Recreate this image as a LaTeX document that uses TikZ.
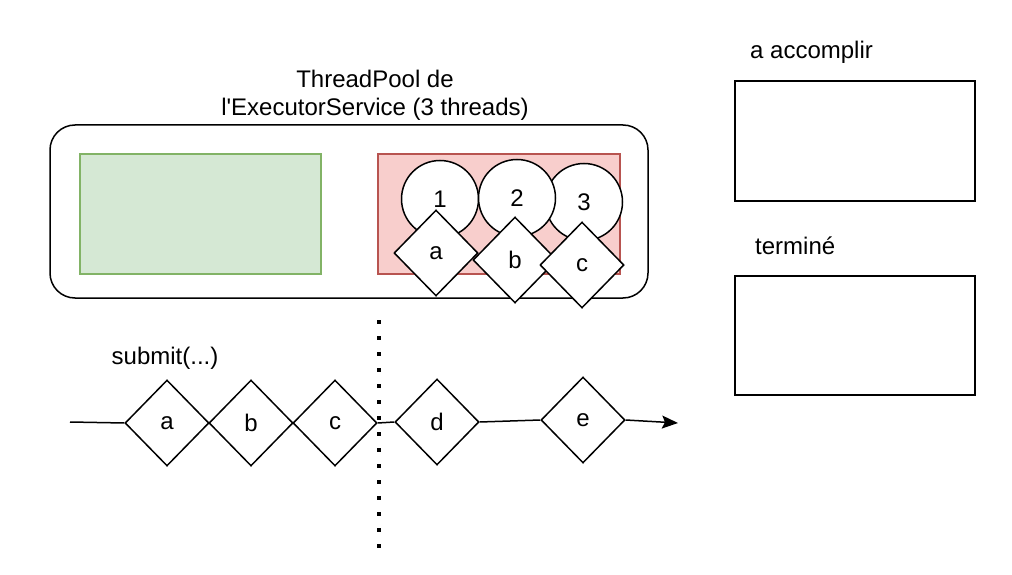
\documentclass[tikz,border=0pt]{standalone}
\usepackage{fontspec}
\setmainfont{Liberation Sans}
\usetikzlibrary{arrows.meta}
\usetikzlibrary{shapes.geometric}

\tikzset{
  lbl/.style={font=\fontsize{24}{28}\selectfont, inner sep=0pt},
  task/.style={diamond, draw, fill=white, line width=1.5pt, inner sep=0pt,
    minimum width=84pt, minimum height=86pt, lbl},
  worker/.style={circle, draw, fill=white, line width=1.5pt, inner sep=0pt,
    minimum size=77pt, lbl},
  box/.style={draw, line width=1.5pt}
}

\begin{document}
\begin{tikzpicture}[x=1pt,y=-1pt]
\useasboundingbox (0,0) rectangle (1012,575);
% the pool
\node[lbl, align=center] (title) at (375,95) {ThreadPool de\\l\textquotesingle ExecutorService (3 threads)};
\draw[box, rounded corners=25pt] (50,125) rectangle (648,298);
\draw[draw={rgb,255:red,130;green,179;blue,102}, fill={rgb,255:red,213;green,232;blue,212}, line width=1.2pt] (80,154) rectangle (321,274);
\draw[draw={rgb,255:red,184;green,84;blue,80}, fill={rgb,255:red,248;green,206;blue,204}, line width=1.2pt] (378,154) rectangle (620,274);
% threads
\node[worker] (t3) at (584,202) {3};
\node[worker] (t1) at (440,199) {1};
\node[worker] (t2) at (517,198) {2};
\node[task] (ta) at (436,253) {a};
\node[task] (tb) at (515,260) {b};
\node[task] (tc) at (582,265) {c};
% queue
\node[lbl] (submit) at (165,358) {submit(...)};
\node[task] (qa) at (167,423) {a};
\node[task] (qb) at (251,423) {b};
\node[task] (qc) at (335,423) {c};
\node[task] (qd) at (437,422) {d};
\node[task] (qe) at (583,420) {e};
\coordinate (start) at (70,422);
\coordinate (end) at (678,423);
\draw[line width=1.5pt] (start) -- (qa.west);
\draw[line width=1.5pt] (qc.east) -- (qd.west);
\draw[line width=1.5pt] (qd.east) -- (qe.west);
\draw[line width=1.5pt, -{Stealth[length=16pt,width=13pt,inset=3pt]}] (qe.east) -- (end);
\draw[line width=3.5pt, dash pattern=on 3.5pt off 12.5pt] (379,320) -- (379,552);
% right side
\node[lbl, anchor=west] (todo) at (750,52) {a accomplir};
\draw[box] (735,81) rectangle (975,201);
\node[lbl, anchor=west] (done) at (755,246) {terminé};
\draw[box] (735,276) rectangle (975,395);
\end{tikzpicture}
\end{document}
